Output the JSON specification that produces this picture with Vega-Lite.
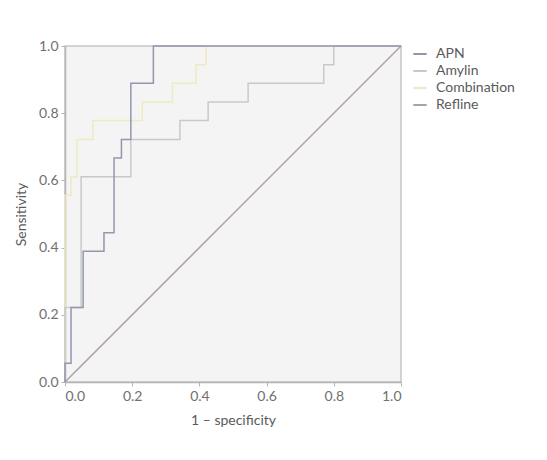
{
  "$schema": "https://vega.github.io/schema/vega-lite/v6.json",
  "autosize": {"type": "none"},
  "padding": {"left": 65, "top": 46, "right": 146, "bottom": 78},
  "width": 336,
  "height": 336,
  "background": "#ffffff",
  "config": {
    "font": "Lato",
    "view": {"fill": "#f4f4f4", "stroke": "#c6c6c6", "strokeWidth": 1.5},
    "axis": {
      "domainColor": "#b4b4b4", "domainWidth": 1.5,
      "tickColor": "#b4b4b4", "tickSize": 4,
      "labelColor": "#707070", "labelFontSize": 14, "labelFont": "Lato",
      "titleColor": "#5a5a5a", "titleFontSize": 14, "titleFontWeight": "normal", "titleFont": "Lato",
      "grid": false
    },
    "legend": {"labelColor": "#5a5a5a", "labelFontSize": 14, "labelFont": "Lato"}
  },
  "data": {"values": [
    {"s": "APN", "i": 0, "x": 0, "y": 0},
    {"s": "APN", "i": 1, "x": 0, "y": 0.056},
    {"s": "APN", "i": 2, "x": 0.018, "y": 0.056},
    {"s": "APN", "i": 3, "x": 0.018, "y": 0.222},
    {"s": "APN", "i": 4, "x": 0.054, "y": 0.222},
    {"s": "APN", "i": 5, "x": 0.054, "y": 0.389},
    {"s": "APN", "i": 6, "x": 0.116, "y": 0.389},
    {"s": "APN", "i": 7, "x": 0.116, "y": 0.444},
    {"s": "APN", "i": 8, "x": 0.146, "y": 0.444},
    {"s": "APN", "i": 9, "x": 0.146, "y": 0.667},
    {"s": "APN", "i": 10, "x": 0.168, "y": 0.667},
    {"s": "APN", "i": 11, "x": 0.168, "y": 0.722},
    {"s": "APN", "i": 12, "x": 0.196, "y": 0.722},
    {"s": "APN", "i": 13, "x": 0.196, "y": 0.889},
    {"s": "APN", "i": 14, "x": 0.263, "y": 0.889},
    {"s": "APN", "i": 15, "x": 0.263, "y": 1},
    {"s": "APN", "i": 16, "x": 1, "y": 1},
    {"s": "Amylin", "i": 0, "x": 0, "y": 0},
    {"s": "Amylin", "i": 1, "x": 0, "y": 0.222},
    {"s": "Amylin", "i": 2, "x": 0.048, "y": 0.222},
    {"s": "Amylin", "i": 3, "x": 0.048, "y": 0.611},
    {"s": "Amylin", "i": 4, "x": 0.196, "y": 0.611},
    {"s": "Amylin", "i": 5, "x": 0.196, "y": 0.722},
    {"s": "Amylin", "i": 6, "x": 0.342, "y": 0.722},
    {"s": "Amylin", "i": 7, "x": 0.342, "y": 0.778},
    {"s": "Amylin", "i": 8, "x": 0.426, "y": 0.778},
    {"s": "Amylin", "i": 9, "x": 0.426, "y": 0.833},
    {"s": "Amylin", "i": 10, "x": 0.545, "y": 0.833},
    {"s": "Amylin", "i": 11, "x": 0.545, "y": 0.889},
    {"s": "Amylin", "i": 12, "x": 0.77, "y": 0.889},
    {"s": "Amylin", "i": 13, "x": 0.77, "y": 0.944},
    {"s": "Amylin", "i": 14, "x": 0.8, "y": 0.944},
    {"s": "Amylin", "i": 15, "x": 0.8, "y": 1},
    {"s": "Amylin", "i": 16, "x": 1, "y": 1},
    {"s": "Combination", "i": 0, "x": 0, "y": 0},
    {"s": "Combination", "i": 1, "x": 0, "y": 0.556},
    {"s": "Combination", "i": 2, "x": 0.018, "y": 0.556},
    {"s": "Combination", "i": 3, "x": 0.018, "y": 0.611},
    {"s": "Combination", "i": 4, "x": 0.036, "y": 0.611},
    {"s": "Combination", "i": 5, "x": 0.036, "y": 0.722},
    {"s": "Combination", "i": 6, "x": 0.083, "y": 0.722},
    {"s": "Combination", "i": 7, "x": 0.083, "y": 0.778},
    {"s": "Combination", "i": 8, "x": 0.23, "y": 0.778},
    {"s": "Combination", "i": 9, "x": 0.23, "y": 0.833},
    {"s": "Combination", "i": 10, "x": 0.32, "y": 0.833},
    {"s": "Combination", "i": 11, "x": 0.32, "y": 0.889},
    {"s": "Combination", "i": 12, "x": 0.39, "y": 0.889},
    {"s": "Combination", "i": 13, "x": 0.39, "y": 0.944},
    {"s": "Combination", "i": 14, "x": 0.42, "y": 0.944},
    {"s": "Combination", "i": 15, "x": 0.42, "y": 1},
    {"s": "Combination", "i": 16, "x": 1, "y": 1},
    {"s": "Refline", "i": 0, "x": 0, "y": 0},
    {"s": "Refline", "i": 1, "x": 1, "y": 1}
  ]},
  "encoding": {
    "x": {"field": "x", "type": "quantitative", "scale": {"domain": [0, 1], "nice": false},
          "axis": {"title": "1 – specificity", "values": [0, 0.2, 0.4, 0.6, 0.8, 1], "format": ".1f", "titlePadding": 10, "labelPadding": 3}},
    "y": {"field": "y", "type": "quantitative", "scale": {"domain": [0, 1], "nice": false},
          "axis": {"title": "Sensitivity", "values": [0, 0.2, 0.4, 0.6, 0.8, 1], "format": ".1f", "titlePadding": 10, "labelPadding": 3}},
    "color": {"field": "s", "type": "nominal",
              "scale": {"domain": ["APN", "Amylin", "Combination", "Refline"], "range": ["#9397ae", "#c6cac6", "#eeeac2", "#ad9fa8"]},
              "legend": {"title": null, "orient": "right", "offset": 8, "padding": 0, "symbolType": "stroke", "symbolStrokeWidth": 2, "symbolSize": 180, "rowPadding": 2, "labelOffset": 8}},
    "order": {"field": "i", "type": "quantitative"}
  },
  "layer": [
    {"transform": [{"filter": "datum.s === 'Combination'"}], "mark": {"type": "line", "strokeWidth": 1.5, "clip": false}},
    {"transform": [{"filter": "datum.s === 'Amylin'"}], "mark": {"type": "line", "strokeWidth": 1.5, "clip": false}},
    {"transform": [{"filter": "datum.s === 'Refline'"}], "mark": {"type": "line", "strokeWidth": 1.5, "clip": false}},
    {"transform": [{"filter": "datum.s === 'APN'"}], "mark": {"type": "line", "strokeWidth": 1.5, "clip": false}}
  ]
}
